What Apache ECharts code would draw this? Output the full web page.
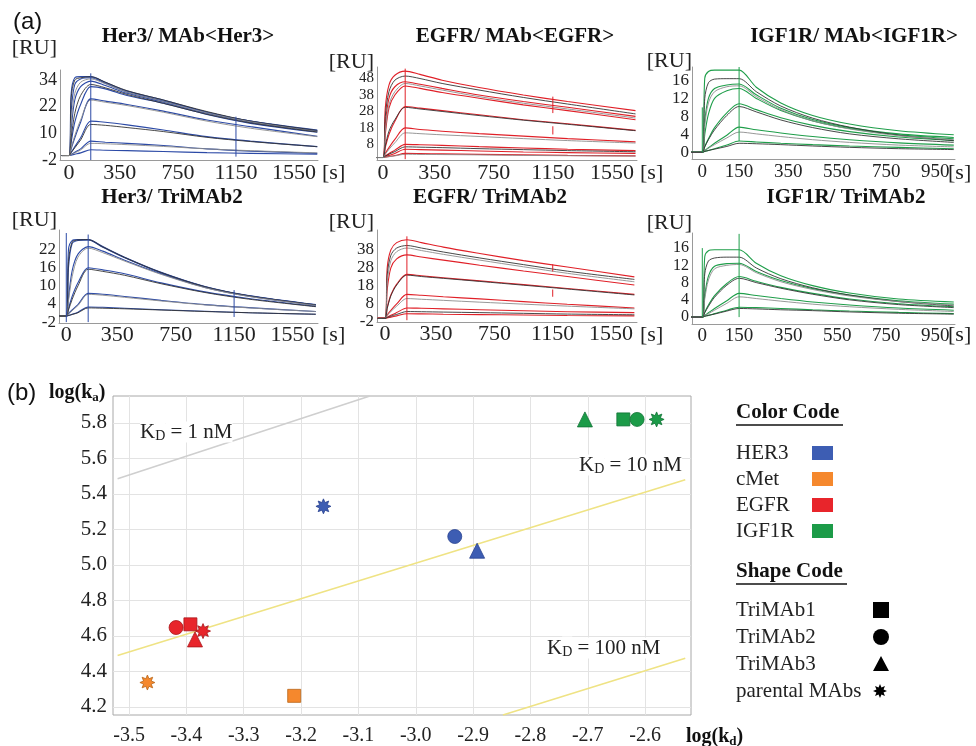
<!DOCTYPE html>
<html>
<head>
<meta charset="utf-8">
<script src="https://cdn.jsdelivr.net/npm/echarts@6/dist/echarts.min.js"></script>
</head>
<body style="margin:0;background:#fff">
<div id="container" style="width:976px;height:746px"></div>
<script>
const chart = echarts.init(document.getElementById('container'));
const SERIF = "'Liberation Serif', 'DejaVu Serif', serif";
const SANS = "'Liberation Sans', Arial, sans-serif";

// ---- (a) sensorgrams: time points (s) ----
const tLong = [-50, 0, 15, 40, 80, 150, 250, 400, 650, 950, 1250, 1710];
const tShort = [-50, 0, 10, 25, 50, 100, 150, 220, 320, 450, 600, 800, 1025];
const xLabelsLong = [0, 350, 750, 1150, 1550];
const xLabelsShort = [0, 150, 350, 550, 750, 950];

// Her3 / MAb<Her3>
const her3MabRaw = [
  [0, 0, 28, 35, 35.5, 35.5, 33, 29, 25, 19.5, 15.5, 11.5],
  [0, 0, 20, 32, 34.5, 35, 32.5, 28.5, 24.5, 19.5, 15.5, 11],
  [0, 0, 12, 25, 31, 33.5, 31.5, 28, 24, 19, 15, 11],
  [0, 0, 6, 15, 23, 31, 30, 27, 23.5, 18.5, 14.5, 10.5],
  [0, 0, 3, 8, 15, 25.5, 24.5, 23, 20, 16, 13, 8.7],
  [0, 0, 1.5, 4, 8, 15.5, 15, 13.8, 11.5, 8.5, 6.5, 4],
  [0, 0, 0.5, 1.5, 3, 6.5, 6, 5.5, 4.5, 3, 2, 1],
  [0, 0, 0.2, 0.6, 1.2, 2.6, 2.4, 2.2, 1.8, 1.3, 1, 0.6]
];
const her3MabFit = [
  [0, 0, 26, 34, 35, 35.5, 33, 29.2, 25, 19.8, 15.5, 11.3],
  [0, 0, 15, 28, 33, 34.5, 32.3, 28.5, 24.3, 19.2, 15.2, 10.8],
  [0, 0, 8, 19, 27, 32, 30.5, 27.5, 23.5, 18.6, 14.7, 10.6],
  [0, 0, 3.5, 9, 16, 25, 24, 22.5, 19.5, 15.5, 12.3, 8.5],
  [0, 0, 1.3, 3.5, 7, 14, 13.6, 12.6, 10.8, 8.2, 6.3, 4],
  [0, 0, 0.4, 1.2, 2.5, 5.5, 5.3, 4.9, 4.1, 3, 2.2, 1.2]
];
const her3MabMarks = [[150, -2, 37], [1150, -0.5, 17.5]];

// EGFR / MAb<EGFR>
const egfrMabRaw = [
  [0, 0, 30, 44, 50, 52.5, 50.5, 47, 42.5, 38, 34, 28.5],
  [0, 0, 20, 36, 43, 46, 44.5, 42, 38, 34, 30.5, 25],
  [0, 0, 14, 30, 38, 43.5, 42, 39.5, 36, 32, 28.5, 23],
  [0, 0, 6, 14, 22, 31, 30, 28.5, 26, 23, 20.5, 16.5],
  [0, 0, 2.5, 6, 11, 18, 17, 16, 14.5, 13, 11.5, 9.5],
  [0, 0, 1, 2.5, 4.5, 8, 7.8, 7.4, 6.6, 5.8, 5, 4.2],
  [0, 0, 0.5, 1.3, 2.5, 5, 4.8, 4.5, 4, 3.4, 3, 2.5],
  [0, 0, 0.3, 0.6, 1.2, 2.5, 2.4, 2.2, 1.9, 1.6, 1.3, 1]
];
const egfrMabFit = [
  [0, 0, 25, 40, 47, 49.5, 48, 45, 41, 36.5, 32.5, 26.5],
  [0, 0, 16, 32, 40, 45, 43.5, 41, 37, 33, 29.5, 24],
  [0, 0, 7, 16, 23, 30.5, 29.5, 28, 25.5, 22.7, 20.2, 16.3],
  [0, 0, 2, 5, 9, 15, 14.5, 13.8, 12.8, 11.5, 10.3, 8.8],
  [0, 0, 0.8, 2, 3.6, 6.5, 6.3, 6, 5.4, 4.8, 4.2, 3.5],
  [0, 0, 0.2, 0.5, 1, 2, 1.9, 1.8, 1.6, 1.3, 1.1, 0.9]
];
const egfrMabMarks = [[150, -1, 54], [1150, 27, 37], [1150, 14, 19]];

// IGF1R / MAb<IGF1R>
const igf1rMabRaw = [
  [0, 0, 16.5, 18, 18.3, 18.3, 18.3, 14.5, 11, 8.2, 6.3, 4.8, 3.9],
  [0, 0, 7, 12, 14.2, 15, 15.2, 12.8, 9.8, 7.3, 5.5, 4.1, 3.3],
  [0, 0, 4, 8.5, 12, 13.7, 14.2, 12, 9.3, 7, 5.3, 3.9, 3],
  [0, 0, 1.3, 3, 5.5, 8.8, 10.8, 9.5, 7.7, 6, 4.6, 3.4, 2.6],
  [0, 0, 0.4, 1, 2, 3.8, 5.6, 5, 4.3, 3.5, 2.8, 2.1, 1.6],
  [0, 0, 0.2, 0.4, 0.8, 1.6, 2.5, 2.3, 2, 1.7, 1.4, 1.1, 0.8]
];
const igf1rMabFit = [
  [0, 0, 12, 15.5, 16.3, 16.4, 16.4, 13.5, 10.3, 7.6, 5.6, 3.8, 2.6],
  [0, 0, 6, 11, 13.5, 14.6, 14.8, 12.4, 9.5, 7, 5.2, 3.7, 2.8],
  [0, 0, 1.2, 2.8, 5, 8.2, 10.2, 9, 7.2, 5.5, 4.1, 3, 2.2],
  [0, 0, 0.4, 0.9, 1.7, 3.2, 4.5, 4.1, 3.5, 2.8, 2.2, 1.6, 1.2],
  [0, 0, 0.2, 0.4, 0.7, 1.3, 2, 1.9, 1.7, 1.4, 1.1, 0.8, 0.6]
];
const igf1rMabMarks = [[0, 0, 10], [150, 2.5, 19]];

// Her3 / TriMAb2
const her3TriRaw = [
  [0, 0, 22, 25, 25.3, 25.3, 23, 19.5, 14.5, 9.8, 6.8, 3.8],
  [0, 0, 16, 24, 25, 25.2, 22.8, 19.3, 14.3, 9.7, 6.7, 3.7],
  [0, 0, 6, 15, 20.5, 23, 21.5, 18.5, 14, 9.5, 6.6, 3.6],
  [0, 0, 2.5, 6.5, 11, 16, 15.3, 14, 11, 8, 5.8, 3.2],
  [0, 0, 0.8, 2, 3.8, 7.5, 7.2, 6.5, 5.2, 3.8, 2.8, 1.5],
  [0, 0, 0.2, 0.6, 1.3, 3, 2.9, 2.6, 2.1, 1.6, 1.1, 0.6]
];
const her3TriFit = [
  [0, 0, 18, 24.5, 25.2, 25.3, 22.9, 19.4, 14.4, 9.7, 6.7, 3.7],
  [0, 0, 5, 13, 19.5, 22.5, 21, 18.2, 13.8, 9.4, 6.5, 3.5],
  [0, 0, 2, 5.5, 10, 15.5, 14.8, 13.5, 10.7, 7.8, 5.6, 3.1],
  [0, 0, 0.7, 1.8, 3.5, 7.2, 6.9, 6.2, 5, 3.7, 2.7, 1.5],
  [0, 0, 0.2, 0.5, 1.1, 2.7, 2.6, 2.4, 2, 1.5, 1.1, 0.6]
];
const her3TriMarks = [[0, -2, 27.5], [150, -2, 27], [1150, -0.3, 8.6]];

// EGFR / TriMAb2
const egfrTriRaw = [
  [0, 0, 28, 38, 42, 43.6, 42, 39.5, 36, 32, 28.5, 23],
  [0, 0, 16, 28, 33, 35.2, 34, 32.3, 29.5, 26.3, 23.2, 18.5],
  [0, 0, 6, 13, 19, 24.4, 23.6, 22.5, 20.8, 18.7, 16.6, 13.3],
  [0, 0, 2, 4.5, 8, 13.3, 12.8, 12, 10.8, 9.3, 7.8, 5.8],
  [0, 0, 0.7, 1.7, 3.2, 5.8, 5.6, 5.3, 4.8, 4.2, 3.7, 3.2],
  [0, 0, 0.3, 0.7, 1.4, 2.6, 2.5, 2.3, 2.1, 1.9, 1.6, 1.4]
];
const egfrTriFit = [
  [0, 0, 24, 35, 39, 40.4, 39, 36.8, 33.5, 29.8, 26.2, 21.6],
  [0, 0, 20, 32, 37, 39, 37.6, 35.5, 32.3, 28.6, 25, 20.3],
  [0, 0, 5.5, 12.5, 18.5, 24, 23.2, 22.2, 20.5, 18.4, 16.3, 13],
  [0, 0, 1.6, 3.8, 6.8, 11, 10.6, 10, 9, 7.9, 6.8, 5.3],
  [0, 0, 0.5, 1.2, 2.2, 3.8, 3.7, 3.5, 3.2, 2.8, 2.4, 2]
];
const egfrTriMarks = [[150, -1, 45.5], [1150, 26, 30], [1150, 12, 16]];

// IGF1R / TriMAb2
const igf1rTriRaw = [
  [0, 0, 14, 15.4, 15.6, 15.6, 15.6, 12.5, 9.6, 7.3, 5.6, 4.2, 3.5],
  [0, 0, 5, 9.5, 11.8, 12.4, 12.5, 10.6, 8.5, 6.6, 5.1, 3.8, 3],
  [0, 0, 1.2, 2.8, 5, 7.8, 9.4, 8.3, 6.9, 5.5, 4.2, 3.1, 2.4],
  [0, 0, 0.4, 1, 2, 3.8, 5.5, 5, 4.3, 3.5, 2.8, 2.1, 1.6],
  [0, 0, 0.2, 0.4, 0.8, 1.6, 2.3, 2.2, 2, 1.7, 1.4, 1.1, 0.8]
];
const igf1rTriFit = [
  [0, 0, 10, 13, 13.7, 13.9, 13.9, 11.4, 8.9, 6.8, 5.1, 3.6, 2.6],
  [0, 0, 4.2, 8.6, 11.2, 12, 12.2, 10.3, 8.2, 6.4, 4.9, 3.6, 2.8],
  [0, 0, 1, 2.5, 4.6, 7.4, 9, 8, 6.7, 5.3, 4, 2.9, 2.2],
  [0, 0, 0.3, 0.8, 1.6, 3.2, 4.7, 4.3, 3.7, 3, 2.4, 1.8, 1.3],
  [0, 0, 0.2, 0.4, 0.7, 1.4, 2, 1.9, 1.7, 1.5, 1.2, 0.9, 0.7]
];
const igf1rTriMarks = [[0, 0, 16], [150, 0, 19.3]];

// ---- (b) rate map ----
const kdValues = [-3.161, -2.932, -2.893, -2.705, -2.638, -2.614, -2.580, -3.418, -3.393, -3.385, -3.371, -3.468, -3.212];
const kaValues = [5.33, 5.16, 5.08, 5.82, 5.82, 5.82, 5.82, 4.647, 4.665, 4.58, 4.627, 4.337, 4.262];
const pointTarget = ['HER3', 'HER3', 'HER3', 'IGF1R', 'IGF1R', 'IGF1R', 'IGF1R', 'EGFR', 'EGFR', 'EGFR', 'EGFR', 'cMet', 'cMet'];
const pointShape = ['parental', 'TriMAb2', 'TriMAb3', 'TriMAb3', 'TriMAb1', 'TriMAb2', 'parental', 'TriMAb2', 'TriMAb1', 'TriMAb3', 'parental', 'parental', 'TriMAb1'];
const kd1nM = [[-3.52, 5.485], [-3.08, 5.952]];
const kd10nM = [[-3.52, 4.489], [-2.53, 5.48]];
const kd100nM = [[-2.848, 4.154], [-2.53, 4.474]];
const scatterXLabels = [-3.5, -3.4, -3.3, -3.2, -3.1, -3.0, -2.9, -2.8, -2.7, -2.6];
const scatterYLabels = [4.2, 4.4, 4.6, 4.8, 5.0, 5.2, 5.4, 5.6, 5.8];

const targetColor = { HER3: '#3d5db3', cMet: '#f5882d', EGFR: '#e8252b', IGF1R: '#1c9b48' };
const targetBorder = { HER3: '#2a4290', cMet: '#b86418', EGFR: '#a8161b', IGF1R: '#127236' };

function starPoints(cx, cy, r) {
  const pts = [];
  for (let k = 0; k < 16; k++) {
    const a = k * Math.PI / 8 - Math.PI / 2;
    const rr = k % 2 === 0 ? r : r * 0.55;
    pts.push([cx + rr * Math.cos(a), cy + rr * Math.sin(a)]);
  }
  return pts;
}
const starPath = 'path://M' + starPoints(50, 50, 50).map(p => p[0].toFixed(1) + ' ' + p[1].toFixed(1)).join(' L') + ' Z';
const shapeSymbol = { TriMAb1: 'rect', TriMAb2: 'circle', TriMAb3: 'triangle', parental: starPath };
const shapeSize = { TriMAb1: 13, TriMAb2: 14, TriMAb3: 15, parental: 15 };

const panels = [
  { title: 'Her3/ MAb<Her3>', t: tLong, raw: her3MabRaw, fit: her3MabFit, marks: her3MabMarks, color: '#2c4aa6',
    x: [-62, 1715], y: [-2, 38.5], xl: xLabelsLong, yl: [-2, 10, 22, 34], xf: 22, yf: 18,
    box: { left: 60, top: 70, width: 258, height: 90 }, tpos: [188, 37], ru: [57, 48], s: [322, 173], lm: 2 },
  { title: 'EGFR/ MAb<EGFR>', t: tLong, raw: egfrMabRaw, fit: egfrMabFit, marks: egfrMabMarks, color: '#e02028',
    x: [-41, 1720], y: [-1.5, 55], xl: xLabelsLong, yl: [8, 18, 28, 38, 48], xf: 22, yf: 15,
    box: { left: 377, top: 67, width: 260, height: 93 }, tpos: [515, 37], ru: [374, 62], s: [640, 173], lm: 2 },
  { title: 'IGF1R/ MAb<IGF1R>', t: tShort, raw: igf1rMabRaw, fit: igf1rMabFit, marks: igf1rMabMarks, color: '#1f9e4a',
    x: [-42, 1030], y: [-1.5, 19], xl: xLabelsShort, yl: [0, 4, 8, 12, 16], xf: 19, yf: 17,
    box: { left: 692, top: 67, width: 263, height: 92 }, tpos: [854, 37], ru: [692, 61], s: [948, 173], lm: 4 },
  { title: 'Her3/ TriMAb2', t: tLong, raw: her3TriRaw, fit: her3TriFit, marks: her3TriMarks, color: '#2c4aa6',
    x: [-50, 1725], y: [-2.3, 28.5], xl: xLabelsLong, yl: [-2, 4, 10, 16, 22], xf: 22, yf: 17,
    box: { left: 59, top: 230, width: 259, height: 93 }, tpos: [172, 198], ru: [57, 220], s: [322, 335], lm: 1 },
  { title: 'EGFR/ TriMAb2', t: tLong, raw: egfrTriRaw, fit: egfrTriFit, marks: egfrTriMarks, color: '#e02028',
    x: [-55, 1728], y: [-2, 49], xl: xLabelsLong, yl: [-2, 8, 18, 28, 38], xf: 22, yf: 17,
    box: { left: 377, top: 230, width: 260, height: 92 }, tpos: [490, 198], ru: [374, 222], s: [640, 335], lm: 1 },
  { title: 'IGF1R/ TriMAb2', t: tShort, raw: igf1rTriRaw, fit: igf1rTriFit, marks: igf1rTriMarks, color: '#1f9e4a',
    x: [-42, 1030], y: [-1.6, 19.5], xl: xLabelsShort, yl: [0, 4, 8, 12, 16], xf: 19, yf: 16,
    box: { left: 692, top: 233, width: 263, height: 91 }, tpos: [846, 198], ru: [692, 223], s: [948, 335], lm: 3 }
];

const grids = [], xAxes = [], yAxes = [], series = [], graphics = [];

panels.forEach((p, i) => {
  grids.push(Object.assign({ containLabel: false }, p.box));
  xAxes.push({
    gridIndex: i, type: 'value', min: p.x[0], max: p.x[1],
    axisLine: { show: true, onZero: false, lineStyle: { color: '#9a9a9a', width: 1 } },
    axisTick: { show: false }, splitLine: { show: false },
    axisLabel: { customValues: p.xl, formatter: v => String(v), showMinLabel: true, showMaxLabel: true, interval: 0, hideOverlap: false,
      fontFamily: SERIF, fontSize: p.xf, color: '#222', margin: p.lm }
  });
  yAxes.push({
    gridIndex: i, type: 'value', min: p.y[0], max: p.y[1],
    axisLine: { show: true, onZero: false, lineStyle: { color: '#9a9a9a', width: 1 } },
    axisTick: { show: false }, splitLine: { show: false },
    axisLabel: { customValues: p.yl, formatter: v => String(v), showMinLabel: true, showMaxLabel: true, interval: 0, hideOverlap: false,
      fontFamily: SERIF, fontSize: p.yf, lineHeight: p.yf - 2, color: '#222', margin: 3 }
  });
  p.raw.forEach(arr => {
    series.push({
      type: 'line', xAxisIndex: i, yAxisIndex: i, showSymbol: false, smooth: 0.3, z: 2,
      data: p.t.map((t, k) => [t, arr[k]]),
      lineStyle: { color: p.color, width: 1.1 }, silent: true, animation: false
    });
  });
  p.fit.forEach((arr, j) => {
    series.push({
      type: 'line', xAxisIndex: i, yAxisIndex: i, showSymbol: false, smooth: 0.3, z: 3,
      data: p.t.map((t, k) => [t, arr[k]]),
      lineStyle: { color: j % 2 === 0 ? '#333' : '#8c8c8c', width: 0.9 }, silent: true, animation: false
    });
  });
  p.marks.forEach(m => {
    series.push({
      type: 'line', xAxisIndex: i, yAxisIndex: i, showSymbol: false, z: 4,
      data: [[m[0], m[1]], [m[0], m[2]]],
      lineStyle: { color: p.color, width: 1 }, silent: true, animation: false
    });
  });
  graphics.push({ type: 'text', x: p.tpos[0], y: p.tpos[1], z: 100,
    style: { text: p.title, font: 'bold 21px ' + SERIF, fill: '#111', align: 'center', verticalAlign: 'middle' } });
  graphics.push({ type: 'text', x: p.ru[0], y: p.ru[1], z: 100,
    style: { text: '[RU]', font: '22px ' + SERIF, fill: '#222', align: 'right', verticalAlign: 'middle' } });
  graphics.push({ type: 'text', x: p.s[0], y: p.s[1], z: 100,
    style: { text: '[s]', font: '22px ' + SERIF, fill: '#222', align: 'left', verticalAlign: 'middle' } });
});

// scatter panel
const sg = panels.length;
grids.push({ left: 113, top: 396, width: 578, height: 320, show: true, borderColor: '#a8a8a8', borderWidth: 1 });
xAxes.push({
  gridIndex: sg, type: 'value', min: -3.528, max: -2.52,
  axisLine: { show: false }, axisTick: { show: false, customValues: scatterXLabels },
  splitLine: { show: true, lineStyle: { color: '#e3e3e3', width: 1 } },
  axisLabel: { customValues: scatterXLabels, formatter: v => v.toFixed(1), showMinLabel: true, showMaxLabel: true,
    fontFamily: SERIF, fontSize: 20, color: '#222', margin: 11 }
});
yAxes.push({
  gridIndex: sg, type: 'value', min: 4.154, max: 5.952,
  axisLine: { show: false }, axisTick: { show: false, customValues: scatterYLabels },
  splitLine: { show: true, lineStyle: { color: '#e3e3e3', width: 1 } },
  axisLabel: { customValues: scatterYLabels, formatter: v => v.toFixed(1), showMinLabel: true, showMaxLabel: true,
    fontFamily: SERIF, fontSize: 21, color: '#222', margin: 6 }
});
[[kd1nM, '#cfcfcf'], [kd10nM, '#efe384'], [kd100nM, '#efe384']].forEach(([pts, c]) => {
  series.push({ type: 'line', xAxisIndex: sg, yAxisIndex: sg, showSymbol: false, data: pts,
    lineStyle: { color: c, width: 1.6 }, silent: true, animation: false, z: 2 });
});
series.push({
  type: 'scatter', xAxisIndex: sg, yAxisIndex: sg, z: 5, animation: false,
  data: kdValues.map((x, i) => ({
    value: [x, kaValues[i]],
    symbol: shapeSymbol[pointShape[i]],
    symbolSize: shapeSize[pointShape[i]],
    itemStyle: { color: targetColor[pointTarget[i]], borderColor: targetBorder[pointTarget[i]], borderWidth: 0.8, opacity: 1 }
  }))
});

// labels
const subRich = {
  sub: { fontFamily: SERIF, fontSize: 14, padding: [9, 0, 0, 0], fill: '#222', backgroundColor: '#fff' },
  m: { fontFamily: SERIF, fontSize: 21, fill: '#222', backgroundColor: '#fff' }
};
function kdLabel(text, x, y) {
  return { type: 'text', x: x, y: y, z: 100, style: { text: '{m|K}{sub|D}{m| = ' + text + '}', rich: subRich, align: 'left', verticalAlign: 'middle' } };
}
graphics.push(kdLabel('1 nM', 140, 432), kdLabel('10 nM', 579, 465), kdLabel('100 nM', 547, 648));

const logRich = {
  b: { fontFamily: SERIF, fontWeight: 'bold', fontSize: 20, fill: '#111' },
  bs: { fontFamily: SERIF, fontWeight: 'bold', fontSize: 13, padding: [9, 0, 0, 0], fill: '#111' }
};
graphics.push(
  { type: 'text', x: 13, y: 22, style: { text: '(a)', font: '24px ' + SANS, fill: '#111', verticalAlign: 'middle' } },
  { type: 'text', x: 7, y: 393, style: { text: '(b)', font: '24px ' + SANS, fill: '#111', verticalAlign: 'middle' } },
  { type: 'text', x: 49, y: 393, style: { text: '{b|log(k}{bs|a}{b|)}', verticalAlign: 'middle', rich: logRich } },
  { type: 'text', x: 686, y: 737, style: { text: '{b|log(k}{bs|d}{b|)}', verticalAlign: 'middle', rich: logRich } }
);

// legend (colour code / shape code)
const legendTargets = ['HER3', 'cMet', 'EGFR', 'IGF1R'];
const legendShapes = [['TriMAb1', 'TriMAb1'], ['TriMAb2', 'TriMAb2'], ['TriMAb3', 'TriMAb3'], ['parental MAbs', 'parental']];
graphics.push(
  { type: 'text', x: 736, y: 413, style: { text: 'Color Code', font: 'bold 21px ' + SERIF, fill: '#111', verticalAlign: 'middle' } },
  { type: 'line', shape: { x1: 736, y1: 425, x2: 843, y2: 425 }, style: { stroke: '#111', lineWidth: 1.5 } },
  { type: 'text', x: 736, y: 572, style: { text: 'Shape Code', font: 'bold 21px ' + SERIF, fill: '#111', verticalAlign: 'middle' } },
  { type: 'line', shape: { x1: 736, y1: 584, x2: 847, y2: 584 }, style: { stroke: '#111', lineWidth: 1.5 } }
);
legendTargets.forEach((name, i) => {
  const cy = 453 + i * 26;
  graphics.push(
    { type: 'text', x: 736, y: cy, style: { text: name, font: '21px ' + SERIF, fill: '#222', verticalAlign: 'middle' } },
    { type: 'rect', shape: { x: 812, y: cy - 7, width: 21, height: 14 }, style: { fill: targetColor[name] } }
  );
});
legendShapes.forEach(([label, key], i) => {
  const cy = 610 + i * 27;
  graphics.push({ type: 'text', x: 736, y: cy, style: { text: label, font: '21px ' + SERIF, fill: '#222', verticalAlign: 'middle' } });
  if (key === 'TriMAb1') graphics.push({ type: 'rect', shape: { x: 873, y: cy - 8, width: 16, height: 16 }, style: { fill: '#000' } });
  if (key === 'TriMAb2') graphics.push({ type: 'circle', shape: { cx: 881, cy: cy, r: 8 }, style: { fill: '#000' } });
  if (key === 'TriMAb3') graphics.push({ type: 'polygon', shape: { points: [[873, cy + 7], [889, cy + 7], [881, cy - 8]] }, style: { fill: '#000' } });
  if (key === 'parental') graphics.push({ type: 'polygon', shape: { points: starPoints(880, cy, 7) }, style: { fill: '#000' } });
});

chart.setOption({
  backgroundColor: '#fff',
  animation: false,
  grid: grids,
  xAxis: xAxes,
  yAxis: yAxes,
  series: series,
  graphic: { elements: graphics }
});
</script>
</body>
</html>
